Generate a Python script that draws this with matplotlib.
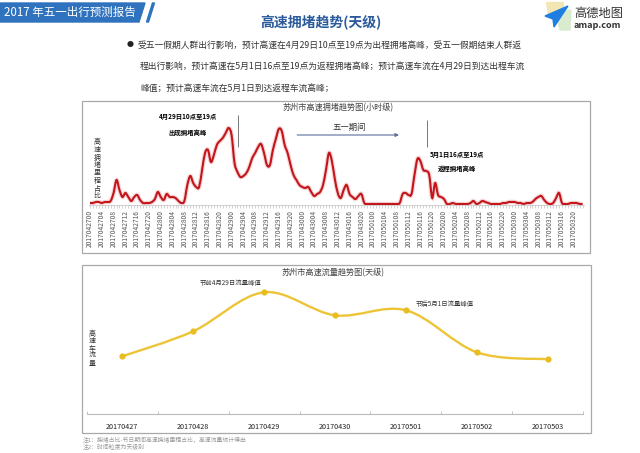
import matplotlib
matplotlib.use("Agg")
import matplotlib.pyplot as plt
from matplotlib.patches import Rectangle, Polygon, PathPatch
from matplotlib.path import Path
import numpy as np

plt.rcParams['font.family'] = ['Noto Sans CJK SC', 'DejaVu Sans']

W, H = 640, 453

# hourly congestion share, one list per day
cong_0427 = [2, 2, 3, 3, 2, 3, 3, 4, 12, 25, 15, 8, 12, 8, 4, 8, 10, 5, 2, 2, 2, 3, 6, 13]
cong_0428 = [8, 5, 11, 8, 8, 7, 4, 2, 4, 20, 29, 22, 18, 18, 35, 52, 55, 43, 50, 60, 64, 67, 72, 77]
cong_0429 = [70, 42, 33, 28, 29, 32, 38, 47, 52, 58, 61, 52, 40, 40, 55, 66, 76, 74, 60, 52, 40, 30, 25, 20]
cong_0430 = [18, 17, 18, 13, 9, 11, 13, 20, 35, 52, 44, 26, 12, 7, 15, 20, 11, 8, 6, 9, 11, 2, 1, 1]
cong_0501 = [1, 1, 1, 1, 1, 1, 1, 1, 1, 2, 11, 12, 10, 11, 30, 46, 44, 35, 34, 30, 7, 22, 10, 8]
cong_0502 = [6, 1, 1, 2, 1, 1, 1, 1, 1, 2, 4, 1, 2, 4, 3, 2, 1, 1, 1, 1, 2, 2, 3, 3]
cong_0503 = [3, 2, 2, 1, 2, 2, 3, 6, 8, 9, 5, 2, 1, 2, 7, 12, 2, 1, 1, 2, 2, 2, 1, 1]
days = ["0427", "0428", "0429", "0430", "0501", "0502", "0503"]
label_hours = [0, 4, 8, 12, 16, 20]

# daily flow (relative)
flow_dates = ["20170427", "20170428", "20170429", "20170430", "20170501", "20170502", "20170503"]
flow = [58, 83, 122, 99, 104, 62, 55]

bullet_lines = [
    "受五一假期人群出行影响，预计高速在4月29日10点至19点为出程拥堵高峰，受五一假期结束人群返",
    "程出行影响，预计高速在5月1日16点至19点为返程拥堵高峰；预计高速车流在4月29日到达出程车流",
    "峰值；预计高速车流在5月1日到达返程车流高峰；",
]


def smooth_path(x, y, k=1 / 6):
    pts = np.column_stack([x, y]).astype(float)
    p = np.vstack([pts[0], pts, pts[-1]])
    verts = [pts[0]]
    codes = [Path.MOVETO]
    for i in range(1, len(p) - 2):
        c1 = p[i] + (p[i + 1] - p[i - 1]) * k
        c2 = p[i + 1] - (p[i + 2] - p[i]) * k
        verts += [c1, c2, p[i + 1]]
        codes += [Path.CURVE4] * 3
    return Path(verts, codes)


def add_ax(left, top, right, bottom):
    return fig.add_axes([left / W, 1 - bottom / H, (right - left) / W, (bottom - top) / H])


def fx(x):
    return x / W


def fy(y):
    return 1 - y / H


def vertical_label(x, y_top, text, pitch, size):
    # stacked upright characters, like the original
    for i, ch in enumerate(text):
        fig.text(fx(x), fy(y_top + pitch * (i + 0.5)), ch, fontsize=size, color="#333333",
                 ha="center", va="center")


fig = plt.figure(figsize=(6.4, 4.53), dpi=100)
fig.set_facecolor("white")

# header banner
fig.patches.append(Polygon([(fx(0), fy(3)), (fx(145), fy(3)), (fx(139), fy(22)), (fx(0), fy(22))],
                           closed=True, transform=fig.transFigure, color="#2f72bd", zorder=1))
fig.patches.append(Polygon([(fx(146.5), fy(22)), (fx(148.5), fy(22)), (fx(154.5), fy(3)), (fx(152.5), fy(3))],
                           closed=True, transform=fig.transFigure, color="#2f72bd", zorder=1))
fig.text(fx(4), fy(12.5), "2017 年五一出行预测报告", color="white", fontsize=8.3, va="center", ha="left")
fig.text(fx(321), fy(23), "高速拥堵趋势(天级)", color="#2a5a9b", fontsize=10, fontweight="bold",
         ha="center", va="center")

# logo
fig.patches.append(Polygon([(fx(546), fy(2)), (fx(563), fy(2)), (fx(563), fy(14)), (fx(548), fy(14))],
                           closed=True, transform=fig.transFigure, color="#f3e6b5", zorder=1))
fig.patches.append(Polygon([(fx(556), fy(12)), (fx(571), fy(10)), (fx(570), fy(30)), (fx(560), fy(30))],
                           closed=True, transform=fig.transFigure, color="#d9ebcf", zorder=1))
fig.patches.append(Polygon([(fx(545), fy(16)), (fx(568), fy(6)), (fx(554), fy(27)), (fx(553), fy(19))],
                           closed=True, transform=fig.transFigure, color="#1f7fe0", zorder=2))
fig.text(fx(574), fy(13), "高德地图", color="#333333", fontsize=8.8, ha="left", va="center")
fig.text(fx(574), fy(25), "amap.com", color="#333333", fontsize=6.6, fontweight="bold", ha="left", va="center")

# bullet text
fig.text(fx(130), fy(45), "●", fontsize=5, color="#222222", ha="center", va="center")
for i, line in enumerate(bullet_lines):
    fig.text(fx(138 if i == 0 else 140), fy(45 + 21.5 * i), line, fontsize=6.3, color="#333333",
             ha="left", va="center")

# chart frames
for (l, t, r, b) in [(82, 101, 590, 253), (82, 265, 591, 433)]:
    fig.patches.append(Rectangle((fx(l), fy(b)), (r - l) / W, (b - t) / H, transform=fig.transFigure,
                                 fill=False, edgecolor="#a8a8a8", lw=0.9, zorder=1))

# ---------------- top chart: hourly congestion ----------------
congestion = cong_0427 + cong_0428 + cong_0429 + cong_0430 + cong_0501 + cong_0502 + cong_0503
hours = np.arange(len(congestion))

ax1 = add_ax(88.5, 105, 584.1, 205)
ax1.set_xlim(-0.5, len(congestion) - 0.5)
ax1.set_ylim(0, 100)
path = smooth_path(hours, congestion)
ax1.add_patch(PathPatch(path, facecolor="none", edgecolor="#f1bcbc", lw=3.2, alpha=0.6))
ax1.add_patch(PathPatch(path, facecolor="none", edgecolor="#c3161c", lw=1.5))
for s in ["top", "left", "right"]:
    ax1.spines[s].set_visible(False)
ax1.spines["bottom"].set_color("#c8c8c8")
ax1.spines["bottom"].set_linewidth(0.6)
ax1.set_yticks([])
tick_pos = [d * 24 + h for d in range(len(days)) for h in label_hours]
tick_lab = ["2017" + day + f"{h:02d}" for day in days for h in label_hours]
ax1.set_xticks(tick_pos)
ax1.set_xticklabels(tick_lab, rotation=90, fontsize=4.8, color="#555555")
ax1.set_xticks(hours, minor=True)
ax1.tick_params(axis="x", which="both", length=2.2, width=0.5, color="#c0c0c0", pad=1.5)
ax1.patch.set_alpha(0)

fig.text(fx(338), fy(108), "苏州市高速拥堵趋势图(小时级)", fontsize=5.9, color="#444444", ha="center", va="center")
vertical_label(97, 138, "高速拥堵里程占比", 7.8, 5.0)

ax1.vlines([50.3, 114.3], [58, 58], [90, 85], color="#777777", lw=0.7)
ax1.text(33.2, 88, "4月29日10点至19点", fontsize=4.6, fontweight="bold", ha="center", va="center")
ax1.text(33.2, 73, "出现拥堵高峰", fontsize=4.6, fontweight="bold", ha="center", va="center")
ax1.text(124.3, 50, "5月1日16点至19点", fontsize=4.6, fontweight="bold", ha="center", va="center")
ax1.text(124.3, 36, "返程拥堵高峰", fontsize=4.6, fontweight="bold", ha="center", va="center")
ax1.text(88, 78, "五一期间", fontsize=6, color="#333333", ha="center", va="center")
ax1.annotate("", xy=(105.7, 70), xytext=(69.3, 70),
             arrowprops=dict(arrowstyle="-|>", color="#5b6f9c", lw=0.8, mutation_scale=5))

# ---------------- bottom chart: daily flow ----------------
ax2 = add_ax(86.7, 264.3, 583.3, 414.3)
xs = np.arange(len(flow))
ax2.set_xlim(-0.5, len(flow) - 0.5)
ax2.set_ylim(0, 150)
ax2.add_patch(PathPatch(smooth_path(xs, flow), facecolor="none", edgecolor="#ecc436", lw=1.7))
ax2.scatter(xs, flow, s=12, color="#e8bd22", zorder=3)
for s in ["top", "left", "right"]:
    ax2.spines[s].set_visible(False)
ax2.spines["bottom"].set_color("#bbbbbb")
ax2.spines["bottom"].set_linewidth(0.8)
ax2.set_yticks([])
ax2.set_xticks(xs)
ax2.set_xticklabels(flow_dates, fontsize=5.2, color="#222222")
ax2.set_xticks(np.arange(-0.5, len(flow), 1.0), minor=True)
ax2.tick_params(axis="x", which="major", length=0, pad=6)
ax2.tick_params(axis="x", which="minor", length=2.5, direction="in", color="#bbbbbb")
ax2.patch.set_alpha(0)

fig.text(fx(333), fy(273), "苏州市高速流量趋势图(天级)", fontsize=5.9, color="#444444", ha="center", va="center")
vertical_label(92.5, 330, "高速车流量", 7.5, 5.0)
ax2.text(2.0 - 0.47, 131, "节前4月29日流量峰值", fontsize=4.6, ha="center", va="center", color="#333333")
ax2.text(4.54, 110, "节后5月1日流量峰值", fontsize=4.6, ha="center", va="center", color="#333333")

fig.text(fx(83), fy(440), "注1：拥堵占比-节日期间高速拥堵里程占比，高速流量统计得出", fontsize=4.2, color="#999999",
         ha="left", va="center")
fig.text(fx(83), fy(446.5), "注2：时间粒度为天级别", fontsize=4.2, color="#999999", ha="left", va="center")

fig.savefig("out.png", dpi=100, facecolor="white")
